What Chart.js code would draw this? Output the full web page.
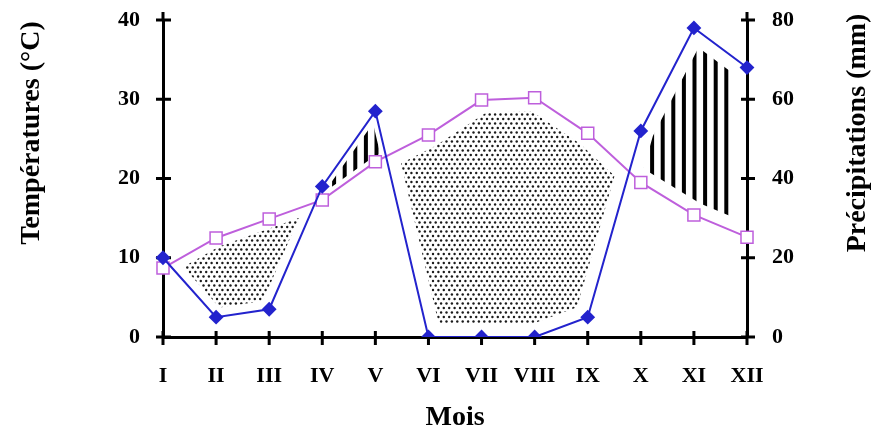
<!DOCTYPE html>
<html>
<head>
<meta charset="utf-8">
<script src="https://cdn.jsdelivr.net/npm/chart.js@4.4.1/dist/chart.umd.min.js"></script>
<style>
  html, body { margin: 0; padding: 0; background: #fff; }
  #wrap { width: 878px; height: 432px; }
</style>
</head>
<body>
<div id="wrap"><canvas id="c" width="878" height="432"></canvas></div>
<script>
// Monthly climate data (ombrothermic diagram, P = 2T)
const months = ['I', 'II', 'III', 'IV', 'V', 'VI', 'VII', 'VIII', 'IX', 'X', 'XI', 'XII'];
const temperature = [8.7, 12.5, 14.9, 17.3, 22.1, 25.5, 29.9, 30.2, 25.7, 19.5, 15.4, 12.6];
const precipitation = [20, 5, 7, 38, 57, 0, 0, 0, 5, 52, 78, 68];
const tempTicks = [0, 10, 20, 30, 40];
const precipTicks = [0, 20, 40, 60, 80];

const SERIF = '"Liberation Serif", "Times New Roman", serif';
const TEMP_COLOR = 'rgb(190, 95, 220)';
const RAIN_COLOR = 'rgb(35, 35, 205)';

// Build the dry / humid regions between the two curves (in pixel space)
function buildRegions(xs, a, b) {
  const sign = d => (d > 0 ? 1 : d < 0 ? -1 : 0);
  const out = [];
  let cur = { s: sign(b[0] - a[0]), top: [[xs[0], a[0]]], bot: [[xs[0], b[0]]] };
  for (let i = 0; i < xs.length - 1; i++) {
    const d0 = b[i] - a[i], d1 = b[i + 1] - a[i + 1];
    if (sign(d0) * sign(d1) < 0) {
      const t = d0 / (d0 - d1);
      const xc = xs[i] + t * (xs[i + 1] - xs[i]);
      const yc = a[i] + t * (a[i + 1] - a[i]);
      cur.top.push([xc, yc]); cur.bot.push([xc, yc]);
      out.push(cur);
      cur = { s: sign(d1), top: [[xc, yc]], bot: [[xc, yc]] };
    }
    cur.top.push([xs[i + 1], a[i + 1]]);
    cur.bot.push([xs[i + 1], b[i + 1]]);
    if (cur.s === 0) cur.s = sign(d1);
  }
  out.push(cur);
  return out.map(r => {
    let thick = 0;
    r.top.forEach((p, i) => { thick = Math.max(thick, Math.abs(r.bot[i][1] - p[1])); });
    return { s: r.s, thick, pts: r.top.concat(r.bot.slice().reverse()) };
  });
}

const shadePlugin = {
  id: 'ombroShade',
  beforeDraw(chart) {
    const ctx = chart.ctx;
    ctx.save();
    ctx.fillStyle = '#fff';
    ctx.fillRect(0, 0, chart.width, chart.height);
    ctx.restore();

    const tMeta = chart.getDatasetMeta(0).data;
    const pMeta = chart.getDatasetMeta(1).data;
    const xs = tMeta.map(p => p.x);
    const a = tMeta.map(p => p.y);
    const b = pMeta.map(p => p.y);
    const area = chart.chartArea;

    buildRegions(xs, a, b).forEach(r => {
      if (r.s === 0) return;
      let minX = Infinity, maxX = -Infinity, minY = Infinity, maxY = -Infinity;
      r.pts.forEach(([x, y]) => {
        minX = Math.min(minX, x); maxX = Math.max(maxX, x);
        minY = Math.min(minY, y); maxY = Math.max(maxY, y);
      });
      ctx.save();
      ctx.beginPath();
      r.pts.forEach(([x, y], i) => (i ? ctx.lineTo(x, y) : ctx.moveTo(x, y)));
      ctx.closePath();
      ctx.clip();
      ctx.fillStyle = '#1a1a1a';
      if (r.s > 0) {
        // dry season: dotted
        const sx = 5.4, sy = 4.5;
        for (let row = 0, y = area.top; y <= area.bottom; row++, y += sy) {
          if (y < minY - sy || y > maxY + sy) continue;
          const off = (row % 2) * (sx / 2);
          for (let x = area.left + off; x <= area.right; x += sx) {
            if (x < minX - sx || x > maxX + sx) continue;
            ctx.beginPath();
            ctx.arc(x, y, 1.2, 0, Math.PI * 2);
            ctx.fill();
          }
        }
      } else {
        // humid season: vertical hatching
        ctx.fillStyle = '#000';
        const step = 10.6;
        for (let x = area.left + 1.5; x <= area.right; x += step) {
          if (x < minX - 4 || x > maxX + 4) continue;
          ctx.fillRect(x - 2, minY, 4, maxY - minY);
        }
      }
      // keep the shading inset from the curves
      const inset = Math.min(13, Math.max(3, 0.1 * r.thick));
      ctx.beginPath();
      r.pts.forEach(([x, y], i) => (i ? ctx.lineTo(x, y) : ctx.moveTo(x, y)));
      ctx.closePath();
      ctx.lineJoin = 'round';
      ctx.strokeStyle = '#fff';
      ctx.lineWidth = inset * 2;
      ctx.stroke();
      ctx.restore();
    });
  },
  beforeDatasetsDraw(chart) {
    const ctx = chart.ctx;
    const { left, right, top, bottom } = chart.chartArea;
    const x = chart.scales.x, yT = chart.scales.y, yP = chart.scales.y2;
    ctx.save();
    ctx.strokeStyle = '#000';
    ctx.lineWidth = 3;
    ctx.beginPath();
    // axis lines running a little past the top
    ctx.moveTo(left, top); ctx.lineTo(left, top - 8);
    ctx.moveTo(right, top); ctx.lineTo(right, top - 8);
    ctx.moveTo(right, bottom); ctx.lineTo(right + 5, bottom);
    // crossing tick marks
    months.forEach((m, i) => {
      const px = x.getPixelForValue(i);
      ctx.moveTo(px, bottom - 6); ctx.lineTo(px, bottom + 8);
    });
    tempTicks.forEach(v => {
      const py = yT.getPixelForValue(v);
      ctx.moveTo(left - 7, py); ctx.lineTo(left + 8, py);
    });
    precipTicks.forEach(v => {
      const py = yP.getPixelForValue(v);
      ctx.moveTo(right - 6, py); ctx.lineTo(right + 8, py);
    });
    ctx.stroke();
    ctx.restore();
  },
  afterDraw(chart) {
    // both vertical titles read bottom-to-top
    const ctx = chart.ctx;
    ctx.save();
    ctx.fillStyle = '#000';
    ctx.font = 'bold 28px ' + SERIF;
    ctx.textAlign = 'center';
    ctx.textBaseline = 'middle';
    [[32, 'Températures (°C)'], [858, 'Précipitations (mm)']].forEach(([cx, txt]) => {
      ctx.save();
      ctx.translate(cx, 133);
      ctx.rotate(-Math.PI / 2);
      ctx.fillText(txt, 0, 0);
      ctx.restore();
    });
    ctx.restore();
  }
};

const tickFont = { family: SERIF, size: 22, weight: 'bold' };

function fixVertical(width) {
  return s => {
    s.width = width;
    s.paddingTop = 0;
    s.paddingBottom = 0;
  };
}

new Chart(document.getElementById('c'), {
  type: 'line',
  data: {
    labels: months,
    datasets: [
      {
        label: 'Températures (°C)',
        data: temperature,
        yAxisID: 'y',
        borderColor: TEMP_COLOR,
        borderWidth: 2,
        pointStyle: 'rect',
        pointRadius: 8.5,
        pointBackgroundColor: '#fff',
        pointBorderColor: TEMP_COLOR,
        pointBorderWidth: 1.5,
        tension: 0,
        fill: false,
        order: 2
      },
      {
        label: 'Précipitations (mm)',
        data: precipitation,
        yAxisID: 'y2',
        borderColor: RAIN_COLOR,
        borderWidth: 2,
        pointStyle: 'rectRot',
        pointRadius: 6,
        pointBackgroundColor: RAIN_COLOR,
        pointBorderColor: RAIN_COLOR,
        tension: 0,
        fill: false,
        order: 1
      }
    ]
  },
  options: {
    responsive: false,
    animation: false,
    devicePixelRatio: 1,
    layout: { padding: { top: 20, left: 0, right: 0, bottom: 0 } },
    plugins: { legend: { display: false }, tooltip: { enabled: false } },
    scales: {
      x: {
        type: 'category',
        offset: false,
        grid: { display: false, drawTicks: false },
        border: { display: true, color: '#000', width: 3 },
        ticks: { font: tickFont, color: '#000', padding: 26, maxRotation: 0, autoSkip: false },
        title: {
          display: true, text: 'Mois', color: '#000',
          font: { family: SERIF, size: 28, weight: 'bold', lineHeight: 1 },
          padding: { top: 0, bottom: 0 }
        },
        afterFit(s) { s.height = 95; s.paddingLeft = 0; s.paddingRight = 0; }
      },
      y: {
        position: 'left',
        min: 0, max: 40,
        afterBuildTicks(s) { s.ticks = tempTicks.map(v => ({ value: v })); },
        grid: { display: false, drawTicks: false },
        border: { display: true, color: '#000', width: 3 },
        ticks: { font: tickFont, color: '#000', padding: 23 },
        afterFit: fixVertical(163)
      },
      y2: {
        position: 'right',
        min: 0, max: 80,
        afterBuildTicks(s) { s.ticks = precipTicks.map(v => ({ value: v })); },
        grid: { display: false, drawTicks: false },
        border: { display: true, color: '#000', width: 3 },
        ticks: { font: tickFont, color: '#000', padding: 25 },
        afterFit: fixVertical(131)
      }
    }
  },
  plugins: [shadePlugin]
});
</script>
</body>
</html>
